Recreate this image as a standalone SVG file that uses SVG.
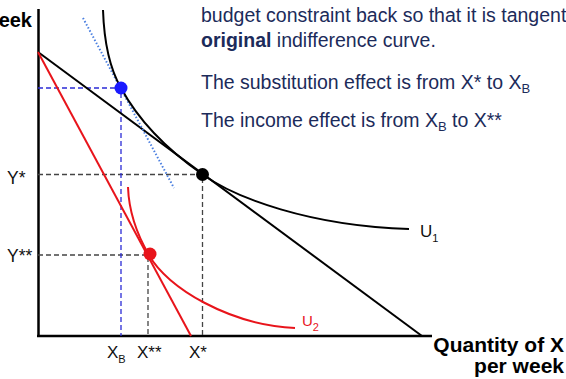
<svg xmlns="http://www.w3.org/2000/svg" width="566" height="379" viewBox="0 0 566 379">
<style>
.ax{stroke:#000;stroke-width:2.5;fill:none}
.bl{stroke:#000;stroke-width:2;fill:none}
.rd{stroke:#e8141b;stroke-width:2;fill:none}
.gd{stroke:#444;stroke-width:1.3;stroke-dasharray:5 3;fill:none}
.bd{stroke:#2b2bd6;stroke-width:1.3;stroke-dasharray:5 3;fill:none}
.lbl{font-family:"Liberation Sans",Arial,sans-serif;fill:#111}
.bold{font-family:"Liberation Sans",Arial,sans-serif;font-weight:bold;fill:#000}
.note{font-family:"Liberation Sans",Arial,sans-serif;font-size:19.5px;fill:#1c2b5a}
</style>
<rect width="566" height="379" fill="#fff"/>
<g id="axes">
<line class="ax" x1="38.5" y1="9" x2="38.5" y2="337"/>
<line class="ax" x1="37" y1="336" x2="432" y2="336"/>
</g>
<g id="guides">
<polyline class="gd" points="38,174.5 202.5,174.5 202.5,336"/>
<polyline class="gd" points="38,255 148,255 148,336"/>
<polyline class="bd" points="38,88 121,88 121,336"/>
</g>
<g id="connectors">
<line id="budget-original" class="bl" x1="38" y1="52" x2="422" y2="336"/>
<line id="budget-new" class="rd" x1="38" y1="52" x2="191" y2="336"/>
<line id="budget-compensated" x1="83" y1="18" x2="174" y2="188" stroke="#4a7fe0" stroke-width="2" stroke-dasharray="1.5 2"/>
<path id="U1-curve" class="bl" d="M103,10 C104,40 110,69 121,88 C141,125 172,153 202,174 C235,198 310,226 409,229"/>
<path id="U2-curve" class="rd" d="M128,187 C129,215 139,238 149,255 C167,288 230,325 295,328"/>
</g>
<g id="point-blue"><circle cx="121" cy="88" r="6.5" fill="#1a1aff"/></g>
<g id="point-black"><circle cx="202.5" cy="174.5" r="6.5" fill="#000"/></g>
<g id="point-red"><circle cx="150" cy="254" r="6.5" fill="#e8141b"/></g>
<g id="labels">
<text class="bold" x="32" y="27" font-size="20" text-anchor="end">eek</text>
<text class="lbl" x="7" y="184" font-size="17.5">Y*</text>
<text class="lbl" x="7" y="262" font-size="17.5">Y**</text>
<text class="lbl" x="107" y="358" font-size="17">X<tspan font-size="11" dy="5">B</tspan></text>
<text class="lbl" x="137" y="358" font-size="17">X**</text>
<text class="lbl" x="189" y="358" font-size="17">X*</text>
<text class="lbl" x="420" y="237" font-size="17">U<tspan font-size="11" dy="5">1</tspan></text>
<text class="lbl" x="302" y="326" font-size="15" style="fill:#e8141b">U<tspan font-size="11" dy="5">2</tspan></text>
<text class="bold" x="564" y="352" font-size="21" text-anchor="end">Quantity of X</text>
<text class="bold" x="564" y="373" font-size="21" text-anchor="end">per week</text>
</g>
<g id="notes">
<text class="note" x="201" y="22">budget constraint back so that it is tangent</text>
<text class="note" x="201" y="47"><tspan font-weight="bold">original</tspan> indifference curve.</text>
<text class="note" x="201" y="89">The substitution effect is from X* to X<tspan font-size="13" dy="4">B</tspan></text>
<text class="note" x="201" y="127">The income effect is from X<tspan font-size="13" dy="4">B</tspan><tspan dy="-4"> to X**</tspan></text>
</g>
</svg>
